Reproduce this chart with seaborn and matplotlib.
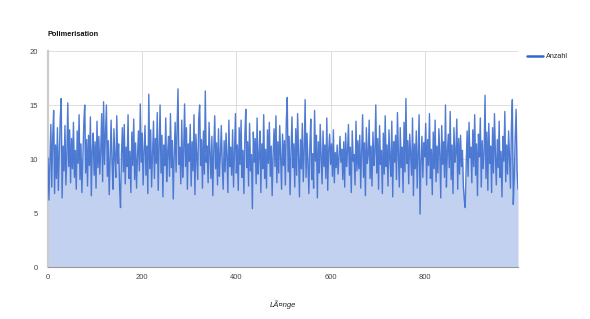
import numpy as np
import pandas as pd
import matplotlib
matplotlib.use("Agg")
import matplotlib.pyplot as plt
import seaborn as sns

title = "Polimerisation"
x_label = "LÃ¤nge"
series_name = "Anzahl"
y_ticks = [0, 5, 10, 15, 20]
x_ticks = [0, 200, 400, 600, 800]

anzahl = [
    10.1,6.2,9.8,13.2,7.4,12.1,14.5,6.8,11.3,8.2,12.9,7.1,10.6,13.8,15.6,6.4,11.2,8.9,13.1,7.6,10.4,15.2,9.3,12.7,7.8,11.9,9.1,13.4,8.3,10.8,7.2,12.6,9.6,14.1,8.1,11.4,6.9,10.2,13.3,15.0,8.7,11.8,7.5,12.2,9.4,13.9,6.6,10.7,12.4,8.5,
    11.6,7.3,13.5,9.2,12.1,8.6,10.9,14.2,7.9,15.3,9.5,12.3,15.0,8.4,11.7,6.7,10.3,13.6,9.8,7.2,12.8,10.1,8.3,14.0,9.6,11.4,7.4,5.5,10.5,12.9,8.8,13.2,7.7,11.1,9.3,14.1,8.2,10.7,6.9,12.5,9.4,13.7,8.1,11.5,7.3,10.2,12.6,8.9,15.1,9.7,
    12.4,7.6,10.8,13.1,8.5,11.2,6.8,16.0,9.1,12.7,7.4,10.4,13.5,8.2,11.9,9.6,14.3,7.1,10.9,15.0,8.7,12.2,6.5,11.3,9.4,13.8,7.9,10.6,12.1,8.4,14.2,9.2,11.7,6.3,10.3,13.4,8.8,12.5,16.5,9.5,11.1,7.7,13.6,8.3,10.7,15.1,9.3,12.9,7.2,11.4,
    9.8,13.2,7.5,11.6,8.9,14.1,6.7,12.3,10.2,8.1,13.7,15.0,9.4,11.8,7.3,12.6,8.6,16.3,9.7,11.2,7.8,13.4,10.5,8.2,12.1,6.6,10.9,14.0,9.1,11.5,7.6,12.8,8.4,10.3,13.1,9.6,7.2,11.7,8.8,12.4,10.1,6.9,13.6,9.3,11.1,8.5,12.7,7.4,10.6,14.2,
    8.7,11.3,7.1,12.9,9.5,13.6,8.3,10.8,6.8,12.2,14.6,9.2,11.6,7.5,13.3,8.9,10.4,5.4,12.5,9.7,11.9,7.7,13.8,8.6,10.2,12.6,6.9,11.4,9.1,14.1,8.2,10.9,7.3,12.7,9.6,13.4,8.4,11.2,6.6,10.5,12.8,9.3,14.0,7.8,11.6,8.7,13.1,10.1,7.2,12.3,
    9.4,11.7,7.6,13.5,15.7,8.8,12.1,6.7,10.6,13.9,9.2,11.4,7.4,12.8,8.5,14.2,10.3,6.5,11.8,9.1,13.3,7.9,10.7,15.5,8.3,12.4,9.6,6.8,11.2,13.7,8.1,10.5,7.3,14.5,9.8,12.2,6.4,11.6,8.7,13.2,10.1,7.7,12.6,9.3,11.3,8.2,13.8,7.1,10.8,12.3,
    9.5,11.4,8.4,12.7,7.8,10.6,9.2,11.3,8.6,10.2,12.1,9.7,10.9,8.1,11.6,7.4,12.4,9.3,10.7,13.2,8.5,11.1,6.9,12.6,9.8,10.4,7.6,13.5,8.9,11.7,9.1,12.2,7.3,10.8,14.1,8.3,11.5,6.6,12.9,9.6,10.3,13.6,8.2,11.2,7.5,12.5,9.4,10.6,15.0,8.7,
    11.9,7.2,13.1,9.5,10.8,6.8,12.4,8.6,14.0,9.3,11.3,7.5,12.7,10.1,8.4,13.5,6.5,11.6,9.7,12.2,8.1,14.3,10.5,7.4,12.9,9.2,11.1,6.9,13.4,8.8,15.6,9.6,11.7,7.7,12.3,10.3,8.5,13.8,6.6,11.4,9.1,12.6,7.3,10.7,14.1,4.9,9.8,12.1,8.3,11.5,
    10.2,13.3,7.6,11.8,9.4,14.2,8.2,10.9,6.7,12.5,9.1,13.6,7.9,11.2,8.7,12.8,10.4,6.4,13.1,9.5,11.6,8.3,15.0,7.4,10.6,12.3,9.2,14.4,8.1,11.3,6.8,12.9,9.7,10.5,13.7,7.2,11.9,8.6,12.2,9.3,10.8,7.5,6.2,5.5,9.6,12.6,8.4,13.4,10.1,11.1,
    7.8,12.7,9.3,14.1,8.5,11.4,6.6,12.3,10.2,13.8,7.4,11.7,9.1,10.6,15.9,8.2,12.5,7.1,13.3,9.6,11.2,6.9,12.9,8.7,14.2,10.4,7.6,11.8,9.2,13.5,8.3,10.7,6.5,12.1,9.8,14.4,7.9,11.3,8.6,12.6,10.1,7.3,13.1,15.5,5.8,8.0,11.9,14.6,9.0,7.2,
]
laenge = list(range(0, 2 * len(anzahl), 2))

df = pd.DataFrame({"Länge": laenge, "Anzahl": anzahl})

sns.set_style("white")
plt.rcParams["font.family"] = ["Liberation Sans", "DejaVu Sans"]

fig = plt.figure(figsize=(5.9, 3.19), dpi=100)
ax = fig.add_axes([48/590, 52/319, 470/590, 216/319])

line_color = "#3366cc"
ax.fill_between(df["Länge"], df["Anzahl"], 0, color="#c2d1f0", lw=0, zorder=1)
sns.lineplot(data=df, x="Länge", y="Anzahl", ax=ax, color=line_color, lw=1.0,
             alpha=0.85, label=series_name, zorder=3)

ax.set_xlim(0, laenge[-1])
ax.set_ylim(0, 20)
ax.set_yticks(y_ticks)
ax.set_xticks(x_ticks)
ax.grid(True, color="#dddddd", lw=0.7, zorder=0)
ax.set_axisbelow(True)
ax.tick_params(axis="both", length=0, labelsize=5.5, labelcolor="#444444")
ax.tick_params(axis="y", pad=7)
ax.tick_params(axis="x", pad=5)
ax.set_xlabel("")
ax.set_ylabel("")
for s in ["top", "right"]:
    ax.spines[s].set_visible(False)
ax.spines["left"].set_color("#cccccc")
ax.spines["left"].set_linewidth(1.6)
ax.spines["bottom"].set_color("#999999")
ax.spines["bottom"].set_linewidth(0.8)

leg = ax.legend(loc="upper left", bbox_to_anchor=(1.005, 1.02), frameon=False,
                fontsize=5.2, handlelength=2.3, handletextpad=0.4)
for h in leg.get_lines():
    h.set_linewidth(1.8)
    h.set_alpha(1.0)

fig.text(48/590, 1 - 35/319, title, fontsize=5.3, fontweight="bold",
         color="#111111", va="center", ha="left")
fig.text(283/590, 1 - 305/319, x_label, fontsize=5.5, style="italic",
         color="#222222", va="center", ha="center")

fig.savefig("out.png", dpi=100)
